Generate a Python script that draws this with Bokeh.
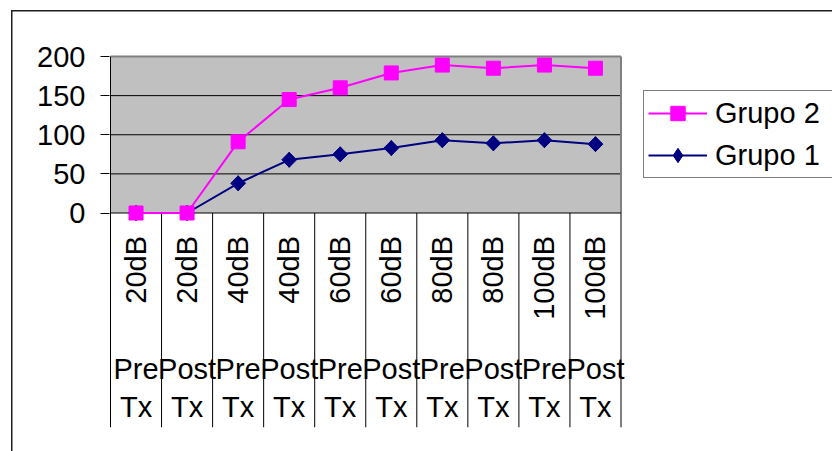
import math
from bokeh.plotting import figure
from bokeh.models import Range1d, FixedTicker, Legend, LegendItem
from bokeh.core.properties import value
from bokeh.embed import file_html
from bokeh.resources import INLINE

# ---- data ----
levels = ["20dB", "20dB", "40dB", "40dB", "60dB", "60dB", "80dB", "80dB", "100dB", "100dB"]
phases = ["Pre", "Post", "Pre", "Post", "Pre", "Post", "Pre", "Post", "Pre", "Post"]
suffix = ["Tx", "Tx", "Tx", "Tx", "Tx", "Tx", "Tx", "Tx", "Tx", "Tx"]
grupo2 = [0, 0, 91, 145, 160, 179, 189, 185, 189, 185]
grupo1 = [0, 0, 38, 68, 75, 83, 93, 89, 93, 88]
y_ticks = [0, 50, 100, 150, 200]
grid_values = [50, 100, 150]

n = len(levels)
xc = [i + 0.5 for i in range(n)]
y_lo, y_hi = 0, 200

# layout (pixels)
W, H = 832, 451
frame_left, frame_top, frame_bottom = 109, 54, 427
axis_px = 110          # x of category 0 boundary
zero_px = 212.5        # y of value 0
px_x = 51.05           # pixels per category
px_y = 0.7825          # pixels per unit
x_start = -(axis_px - frame_left) / px_x
x_end = n + (W - (axis_px + n * px_x)) / px_x
y_end = (zero_px - frame_top) / px_y
y_start = -(frame_bottom - zero_px) / px_y

FONT = "Liberation Sans"
FS = "29px"
border_css = ("linear-gradient(#1e1e1e,#1e1e1e) 10.5px 10px / 1.5px 100% no-repeat, "
              "linear-gradient(#1e1e1e,#1e1e1e) 10.5px 10px / 100% 1.5px no-repeat, white")

p = figure(width=W, height=H, output_backend="svg", toolbar_location=None,
           title=None, x_range=Range1d(x_start, x_end), y_range=Range1d(y_start, y_end),
           x_axis_location=None, y_axis_location="left",
           min_border_left=frame_left, min_border_right=0, min_border_top=frame_top,
           min_border_bottom=H - frame_bottom,
           background_fill_color=None, border_fill_color=None, outline_line_color=None,
           styles={"background": border_css})
p.xgrid.visible = False
p.ygrid.visible = False

# plot area
p.quad(left=[0], right=[n], bottom=[y_lo], top=[y_hi], fill_color="#C0C0C0", line_color=None)
p.segment(x0=[0] * len(grid_values), x1=[n] * len(grid_values), y0=grid_values, y1=grid_values,
          line_color="black", line_width=1)
# plot-area border (gray top/right)
p.segment(x0=[0, n], x1=[n, n], y0=[y_hi, y_lo], y1=[y_hi, y_hi], line_color="#808080", line_width=2)
# category separators
bounds = list(range(n + 1))
p.segment(x0=bounds, x1=bounds, y0=[y_start] * (n + 1), y1=[y_lo] * (n + 1), line_color="black", line_width=1)
# axes lines
p.segment(x0=[0, 0], x1=[n, 0], y0=[y_lo, y_lo], y1=[y_lo, y_hi], line_color="black", line_width=1)

# y axis
ax = p.yaxis[0]
ax.ticker = FixedTicker(ticks=y_ticks)
ax.axis_line_color = None
ax.major_tick_in = 0
ax.major_tick_out = 9
ax.major_tick_line_color = "black"
ax.minor_tick_line_color = None
ax.major_label_standoff = 15
ax.major_label_text_font = FONT
ax.major_label_text_font_size = FS
ax.major_label_text_color = "black"

# series
l1 = p.line(xc, grupo1, line_color="#000080", line_width=2)
s1_key = p.scatter(xc, grupo1, marker="diamond", size=15,
                   fill_color="#000080", line_color="#000080")
s1 = p.scatter(xc, grupo1, marker="square", angle=math.pi / 4, size=10.5,
               fill_color="#000080", line_color="#000080")
l2 = p.line(xc, grupo2, line_color="#FF00FF", line_width=2)
s2 = p.scatter(xc, grupo2, marker="square", size=14, fill_color="#FF00FF", line_color="#FF00FF")

# category labels
zeros = [y_lo] * n
p.text(xc, zeros, text=levels, angle=math.pi / 2, text_align="right", text_baseline="middle",
       y_offset=23, text_font=value(FONT), text_font_size=FS, text_color="black")
p.text(xc, zeros, text=phases, text_align="center", text_baseline="alphabetic",
       y_offset=156, text_font=value(FONT), text_font_size=FS, text_color="black")
p.text(xc, zeros, text=suffix, text_align="center", text_baseline="alphabetic",
       y_offset=194, text_font=value(FONT), text_font_size=FS, text_color="black")

legend = Legend(items=[LegendItem(label="Grupo 2", renderers=[l2, s2]),
                       LegendItem(label="Grupo 1", renderers=[l1, s1_key])],
                location=(534, 249), orientation="vertical",
                glyph_width=59, glyph_height=36, label_height=33, label_width=113,
                label_standoff=8, padding=4, spacing=6, margin=0,
                label_text_font=FONT, label_text_font_size="29px", label_text_color="black",
                border_line_color="black", border_line_width=1,
                background_fill_color="white", background_fill_alpha=1)
p.add_layout(legend, "center")

open("out.html", "w").write(file_html(p, INLINE))
